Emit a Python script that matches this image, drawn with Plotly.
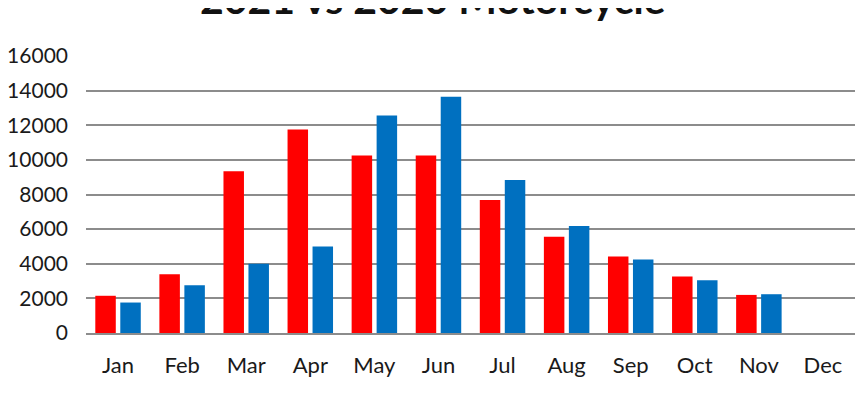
import plotly.graph_objects as go

# monthly registrations
months = ["Jan", "Feb", "Mar", "Apr", "May", "Jun", "Jul", "Aug", "Sep", "Oct", "Nov", "Dec"]
sales_2021 = [2150, 3400, 9350, 11750, 10250, 10250, 7680, 5560, 4420, 3270, 2200, None]
sales_2020 = [1760, 2760, 4000, 5000, 12560, 13650, 8840, 6180, 4250, 3050, 2240, None]

red = "#FF0000"
blue = "#0070C0"
font = "Lato"

fig = go.Figure()
fig.add_trace(go.Bar(x=months, y=sales_2021, name="2021", marker=dict(color=red, line_width=0)))
fig.add_trace(go.Bar(x=months, y=sales_2020, name="2020", marker=dict(color=blue, line_width=0)))

# page body adds an 8px offset, margins below make up for it
fig.update_layout(
    width=864,
    height=400,
    barmode="group",
    bargap=0.22,
    bargroupgap=0.18,
    showlegend=False,
    plot_bgcolor="white",
    paper_bgcolor="white",
    margin=dict(l=78, r=17, t=48, b=75, autoexpand=False),
    font=dict(family=font, size=22, color="#1a1a1a"),
)

fig.add_annotation(
    text="<b>2021 vs 2020 Motorcycle</b>",
    xref="paper", yref="paper",
    x=0.4506, y=1.207,
    xanchor="center", yanchor="middle",
    showarrow=False,
    font=dict(family=font, size=41, color="#111111"),
)

fig.update_yaxes(
    range=[0, 16000],
    dtick=2000,
    tickformat="d",
    showgrid=True,
    gridcolor="#8c8c8c",
    gridwidth=2,
    zeroline=False,
    showline=False,
    ticks="",
    automargin=False,
    tickfont=dict(size=21),
    ticklabelstandoff=17,
)
fig.update_xaxes(
    showline=True,
    linecolor="#8c8c8c",
    linewidth=2,
    ticks="",
    automargin=False,
    ticklabelstandoff=12,
)

fig.write_html("out.html")
